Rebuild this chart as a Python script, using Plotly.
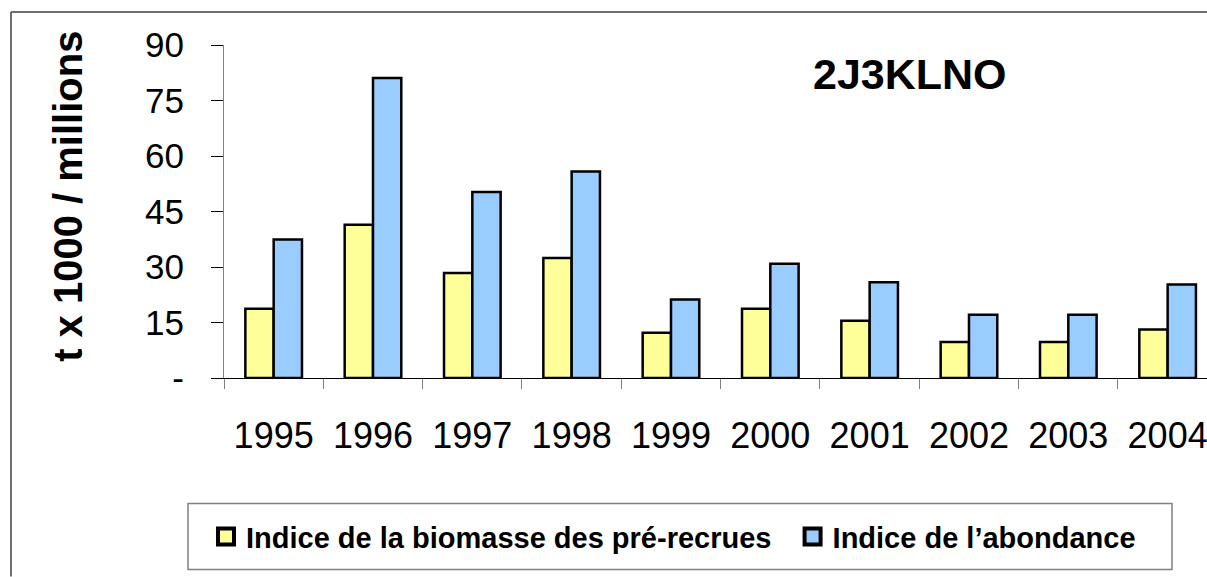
import plotly.graph_objects as go

years = ["1995", "1996", "1997", "1998", "1999", "2000", "2001", "2002", "2003", "2004"]
biomasse = [18.7, 41.4, 28.4, 32.4, 12.2, 18.7, 15.5, 9.7, 9.7, 13.1]
abondance = [37.4, 81.1, 50.3, 55.8, 21.2, 30.9, 25.9, 17.1, 17.1, 25.3]
y_ticks = [0, 15, 30, 45, 60, 75, 90]
y_ticktext = ["-", "15", "30", "45", "60", "75", "90"]
names = ["Indice de la biomasse des pré-recrues", "Indice de l\u2019abondance"]
colors = ["#FFFF99", "#99CCFF"]

FONT = "Arial, 'Liberation Sans', sans-serif"

# pixel geometry helpers (plot area)
L, T, W, H = 224, 45, 983, 333.3
def px(x):
    return (x - L) / W
def py(y):
    return (T + H - y) / H

fig = go.Figure()
for vals, name, col in [(biomasse, names[0], colors[0]), (abondance, names[1], colors[1])]:
    fig.add_trace(go.Bar(x=years, y=vals, name=name, showlegend=False, legendgroup=name,
                         marker=dict(color=col, line=dict(color="black", width=2.5))))
# legend entries (larger square swatches like the original)
legend_labels = [names[0] + "\u00a0\u00a0", names[1]]
for name, lab, col in zip(names, legend_labels, colors):
    fig.add_trace(go.Scatter(x=[None], y=[None], mode="markers", name=lab, legendgroup=name,
                             marker=dict(symbol="square", size=16, color=col,
                                         line=dict(color="black", width=4))))

fig.update_layout(
    width=1207, height=577,
    margin=dict(l=L, r=0, t=T, b=577 - T - H),
    paper_bgcolor="white", plot_bgcolor="white",
    font=dict(family=FONT, color="black"),
    barmode="group", bargap=0.43, bargroupgap=0,
    showlegend=True,
    legend=dict(orientation="h", x=px(206), xanchor="left", y=py(537), yanchor="middle",
                font=dict(size=29, family=FONT, color="black", weight="bold"),
                bgcolor="rgba(0,0,0,0)", borderwidth=0, traceorder="normal",
                itemsizing="trace"),
    xaxis=dict(type="category", categoryorder="array", categoryarray=years,
               range=[-0.5, -0.5 + W / 99.33],
               showline=True, linecolor="black", linewidth=1.2,
               ticks="outside", ticklen=10, tickcolor="#808080", tickwidth=1.2,
               tickson="boundaries", showgrid=False, zeroline=False,
               tickfont=dict(size=36, family=FONT, color="black"),
               ticklabelstandoff=26),
    yaxis=dict(range=[0, 90], tickvals=y_ticks, ticktext=y_ticktext,
               showline=True, linecolor="#808080", linewidth=1.2,
               ticks="outside", ticklen=12, tickcolor="black", tickwidth=1.2,
               showgrid=False, zeroline=False,
               tickfont=dict(size=35, family=FONT, color="black"),
               ticklabelstandoff=20),
)

fig.add_annotation(text="<b>t x 1000 / millions</b>", xref="paper", yref="paper",
                   x=px(68), y=py(197), xanchor="center", yanchor="middle",
                   textangle=-90, showarrow=False,
                   font=dict(size=40, family=FONT, color="black"))
fig.add_annotation(text="<b>2J3KLNO</b>", xref="paper", yref="paper",
                   x=px(910), y=py(74), xanchor="center", yanchor="middle",
                   showarrow=False, font=dict(size=43, family=FONT, color="black"))

# outer chart border (left and top edges only visible in the original)
fig.add_shape(type="line", xref="paper", yref="paper",
              x0=px(11), x1=px(11), y0=py(577), y1=py(12),
              line=dict(color="#404040", width=1.5), layer="above")
fig.add_shape(type="line", xref="paper", yref="paper",
              x0=px(11), x1=px(1207), y0=py(12), y1=py(12),
              line=dict(color="#404040", width=1.5), layer="above")
# legend box
fig.add_shape(type="rect", xref="paper", yref="paper",
              x0=px(188), x1=px(1172), y0=py(570), y1=py(504),
              line=dict(color="#808080", width=1.5), fillcolor="rgba(0,0,0,0)", layer="above")

fig.write_html("out.html", config={"displayModeBar": False},
               post_script="document.body.style.margin='0';document.body.style.overflow='hidden';")
